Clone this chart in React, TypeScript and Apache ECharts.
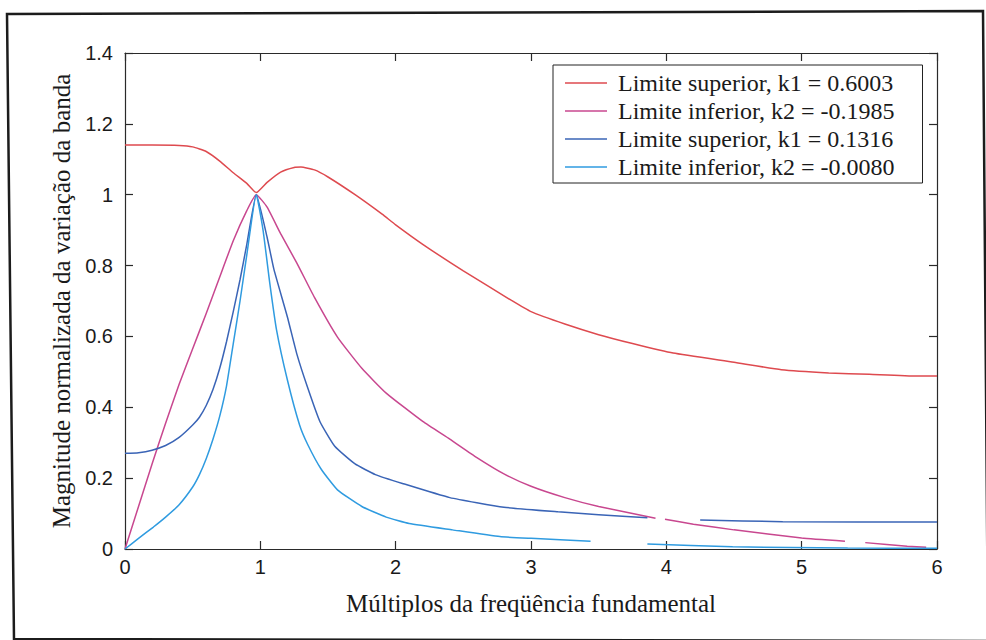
import React, { useEffect, useRef } from "react";
import * as echarts from "echarts";

// ---- data ----
const xTicks = [0, 1, 2, 3, 4, 5, 6];
const yTicks = [0, 0.2, 0.4, 0.6, 0.8, 1, 1.2, 1.4];

const seriesNames = [
  "Limite superior, k1 = 0.6003",
  "Limite inferior, k2 = -0.1985",
  "Limite superior, k1 = 0.1316",
  "Limite inferior, k2 = -0.0080",
];
const seriesColors = ["#de4a4f", "#c8478f", "#3a64b6", "#2f9be0"];

const redX = [0, 0.2, 0.4, 0.5, 0.6, 0.7, 0.8, 0.9, 0.97, 1.05, 1.15, 1.25, 1.3, 1.4, 1.5, 1.7, 1.9, 2.0, 2.2, 2.5, 2.85, 3.0, 3.25, 3.5, 3.75, 4.05, 4.5, 4.85, 5.2, 5.5, 5.85, 6.0];
const redY = [1.14, 1.14, 1.139, 1.135, 1.122, 1.095, 1.062, 1.032, 1.006, 1.035, 1.064, 1.077, 1.078, 1.07, 1.05, 1.0, 0.945, 0.915, 0.86, 0.785, 0.703, 0.67, 0.635, 0.605, 0.58, 0.553, 0.527, 0.506, 0.497, 0.493, 0.488, 0.488];

const magX = [0, 0.1, 0.2, 0.3, 0.4, 0.5, 0.6, 0.7, 0.8, 0.9, 0.97, 1.05, 1.15, 1.27, 1.4, 1.57, 1.75, 1.93, 2.2, 2.4, 2.6, 2.8, 3.0, 3.25, 3.5, 3.92, 3.95, 3.99, 4.2, 4.5, 5.0, 5.32, 5.4, 5.47, 5.78, 5.92];
const magY = [0, 0.12, 0.24, 0.355, 0.465, 0.565, 0.665, 0.768, 0.87, 0.955, 1.0, 0.965, 0.89, 0.807, 0.71, 0.598, 0.51, 0.44, 0.36, 0.31, 0.258, 0.212, 0.177, 0.145, 0.12, 0.087, null, 0.084, 0.07, 0.054, 0.031, 0.022, null, 0.018, 0.008, 0.005];

const dkbX = [0, 0.1, 0.2, 0.3, 0.4, 0.5, 0.55, 0.6, 0.65, 0.7, 0.75, 0.8, 0.85, 0.9, 0.97, 1.05, 1.1, 1.2, 1.27, 1.35, 1.44, 1.55, 1.7, 1.85, 2.05, 2.4, 2.8, 3.2, 3.5, 3.86, 4.0, 4.25, 4.86, 6.0];
const dkbY = [0.27, 0.272, 0.279, 0.292, 0.315, 0.35, 0.372, 0.405, 0.45, 0.51, 0.585, 0.67, 0.76, 0.86, 1.0, 0.88, 0.79, 0.655, 0.55, 0.455, 0.36, 0.29, 0.24, 0.21, 0.185, 0.145, 0.118, 0.105, 0.097, 0.088, null, 0.082, 0.077, 0.076];

const ltbX = [0, 0.1, 0.21, 0.3, 0.4, 0.5, 0.55, 0.6, 0.65, 0.7, 0.75, 0.8, 0.85, 0.9, 0.97, 1.02, 1.07, 1.12, 1.2, 1.29, 1.35, 1.45, 1.57, 1.75, 1.93, 2.1, 2.42, 2.77, 3.0, 3.44, 3.6, 3.86, 4.49, 5.34, 6.0];
const ltbY = [0, 0.03, 0.062, 0.09, 0.125, 0.175, 0.21, 0.255, 0.31, 0.375, 0.46, 0.58, 0.7, 0.83, 1.0, 0.9, 0.75, 0.618, 0.477, 0.35, 0.295, 0.225, 0.167, 0.12, 0.09, 0.072, 0.054, 0.035, 0.03, 0.022, null, 0.014, 0.006, 0.003, 0.002];

const allX = [redX, magX, dkbX, ltbX];
const allY = [redY, magY, dkbY, ltbY];

const xTitle = "Múltiplos da freqüência fundamental";
const yTitle = "Magnitude normalizada da variação da banda";

export default function App() {
  const ref = useRef<HTMLDivElement>(null);

  useEffect(() => {
    document.body.style.margin = "0";
    const chart = echarts.init(ref.current!, null, { renderer: "svg" });
    const serif = "'Liberation Serif', 'DejaVu Serif', serif";
    const sans = "'Liberation Sans', Arial, sans-serif";
    const axisColor = "#2a2a2a";

    const series = seriesNames.map((name, i) => ({
      name,
      type: "line",
      xAxisIndex: 0,
      yAxisIndex: 0,
      showSymbol: false,
      symbol: "none",
      smooth: 0.15,
      connectNulls: false,
      lineStyle: { color: seriesColors[i], width: 1.5 },
      itemStyle: { color: seriesColors[i] },
      data: allX[i].map((x, j) => [x, allY[i][j] === null ? "-" : allY[i][j]]),
    }));

    const baseX = {
      type: "value",
      min: xTicks[0],
      max: xTicks[xTicks.length - 1],
      interval: 1,
      splitLine: { show: false },
      axisLine: { show: true, onZero: false, lineStyle: { color: axisColor, width: 1.2 } },
      axisTick: { show: true, inside: true, length: 8, lineStyle: { color: axisColor, width: 1.2 } },
    };
    const baseY = {
      type: "value",
      min: yTicks[0],
      max: yTicks[yTicks.length - 1],
      interval: 0.2,
      splitLine: { show: false },
      axisLine: { show: true, onZero: false, lineStyle: { color: axisColor, width: 1.2 } },
      axisTick: { show: true, inside: true, length: 8, lineStyle: { color: axisColor, width: 1.2 } },
    };

    chart.setOption({
      animation: false,
      backgroundColor: "#ffffff",
      grid: { left: 125, right: 49, top: 53, bottom: 91, containLabel: false },
      xAxis: [
        {
          ...baseX,
          position: "bottom",
          axisLabel: { show: true, color: "#1a1a1a", fontFamily: sans, fontSize: 20, margin: 8 },
          name: xTitle,
          nameLocation: "middle",
          nameGap: 42,
          nameTextStyle: { color: "#1a1a1a", fontFamily: serif, fontSize: 25 },
        },
        { ...baseX, position: "top", axisLabel: { show: false } },
      ],
      yAxis: [
        {
          ...baseY,
          position: "left",
          axisLabel: { show: true, color: "#1a1a1a", fontFamily: sans, fontSize: 20, margin: 12 },
          name: yTitle,
          nameLocation: "middle",
          nameRotate: 90,
          nameGap: 46,
          nameTextStyle: { color: "#1a1a1a", fontFamily: serif, fontSize: 25 },
        },
        { ...baseY, position: "right", axisLabel: { show: false } },
      ],
      legend: {
        show: true,
        orient: "vertical",
        left: 553,
        top: 65,
        padding: [6, 28, 4, 12],
        itemGap: 4,
        itemWidth: 42,
        itemHeight: 1.5,
        icon: "rect",
        borderColor: "#222",
        borderWidth: 1,
        backgroundColor: "#fff",
        textStyle: { color: "#1a1a1a", fontFamily: serif, fontSize: 24, lineHeight: 24, padding: [0, 0, 0, 6] },
        data: seriesNames,
      },
      graphic: [
        {
          type: "polygon",
          shape: { points: [[7, 14], [983, 11], [988, 641], [14, 639]] },
          style: { fill: "none", stroke: "#1c1c1c", lineWidth: 2.5 },
          silent: true,
        },
      ],
      series,
    });
    return () => chart.dispose();
  }, []);

  return (
    <div
      ref={ref}
      style={{ position: "absolute", left: 0, top: 0, width: 986, height: 640, background: "#fff" }}
    />
  );
}
